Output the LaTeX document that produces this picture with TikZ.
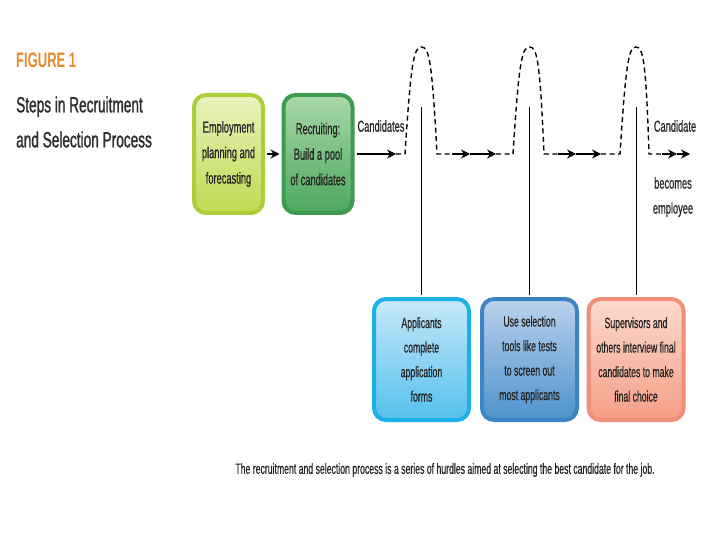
\documentclass[tikz,border=0pt]{standalone}
\usepackage{fontspec}
\setmainfont{Liberation Sans}[FakeStretch=0.58,FakeBold=0.5]
\newfontfamily\titlefont{Liberation Sans}[FakeStretch=0.62,FakeBold=1.2]
\newfontfamily\figfont{Liberation Sans}[FakeStretch=0.62]
\usetikzlibrary{arrows.meta,calc}
\definecolor{orangeT}{RGB}{234,138,48}
\definecolor{titleG}{RGB}{45,45,45}
\definecolor{txt}{RGB}{35,35,35}
\definecolor{g1b}{RGB}{172,206,58}\definecolor{g1t}{RGB}{234,243,190}\definecolor{g1m}{RGB}{190,218,80}
\definecolor{g2b}{RGB}{62,156,80}\definecolor{g2t}{RGB}{170,216,170}\definecolor{g2m}{RGB}{76,168,92}
\definecolor{cAb}{RGB}{28,176,232}\definecolor{cAt}{RGB}{200,232,248}\definecolor{cAm}{RGB}{84,192,238}
\definecolor{cBb}{RGB}{60,132,196}\definecolor{cBt}{RGB}{188,210,236}\definecolor{cBm}{RGB}{76,146,206}
\definecolor{cCb}{RGB}{240,142,118}\definecolor{cCt}{RGB}{252,218,206}\definecolor{cCm}{RGB}{245,158,134}
\tikzset{
  stepbox/.style={draw, line width=4pt, rounded corners=12pt, align=center,
    text=txt, inner sep=0pt},
  topbox/.style={stepbox, font=\fontsize{16}{25.5}\selectfont, minimum width=69pt, minimum height=118pt},
  lowbox/.style={stepbox, font=\fontsize{15}{24.5}\selectfont, minimum width=95pt, minimum height=121pt},
  flow/.style={line width=1.4pt, black},
  tip/.style={flow, -{Stealth[length=9pt,width=9pt]}},
  hurdle/.style={flow, dash pattern=on 5pt off 3.5pt},
  stem/.style={line width=0.8pt, black},
  lbl/.style={text=txt, font=\fontsize{16}{25}\selectfont, inner sep=0pt}
}
\begin{document}
\begin{tikzpicture}[x=1pt,y=-1pt]
\useasboundingbox (0,0) rectangle (720,540);
% titles
\node[anchor=west, text=orangeT, font=\figfont\bfseries\fontsize{21}{22}\selectfont, inner sep=0pt] (fig) at (16,60) {FIGURE 1};
\node[anchor=west, text=titleG, font=\titlefont\fontsize{22}{35}\selectfont, inner sep=0pt, align=left] (ttl) at (16,122) {Steps in Recruitment\\and Selection Process};
% top boxes
\node[topbox, draw=g1b, top color=g1t, bottom color=g1m] (box1) at (228.5,154) {Employment\\planning and\\forecasting};
\node[topbox, draw=g2b, top color=g2t, bottom color=g2m] (box2) at (318,154) {Recruiting:\\Build a pool\\of candidates};
% bottom boxes
\node[lowbox, draw=cAb, top color=cAt, bottom color=cAm] (boxA) at (421.5,359.5) {Applicants\\complete\\application\\forms};
\node[lowbox, draw=cBb, top color=cBt, bottom color=cBm] (boxB) at (529.5,359.5) {Use selection\\tools like tests\\to screen out\\most applicants};
\node[lowbox, draw=cCb, top color=cCt, bottom color=cCm] (boxC) at (636,359.5) {Supervisors and\\others interview final\\candidates to make\\final choice};
% coordinates
\coordinate (a1) at (396,154);
\coordinate (h1l) at (405,154);
\coordinate (h1r) at (437,154);
\coordinate (s1) at (452,154);
\coordinate (s1m) at (470,154);
\coordinate (s1e) at (496,154);
\coordinate (h2l) at (513,154);
\coordinate (h2r) at (544,154);
\coordinate (s2) at (558,154);
\coordinate (s2m) at (576,154);
\coordinate (s2e) at (601,154);
\coordinate (h3l) at (620,154);
\coordinate (h3r) at (649,154);
\coordinate (s3) at (662,154);
\coordinate (s3m) at (677,154);
\coordinate (s3e) at (690,154);
\coordinate (v1) at (421.5,107);
\coordinate (v2) at (529.5,107);
\coordinate (v3) at (636,107);
% connectors
\draw[tip] ($(box1.east)+(2,0)$) -- ($(box2.west)+(-2,0)$);
\draw[tip] ($(box2.east)+(2,0)$) -- (a1);
\draw[hurdle] (a1) -- (h1l) .. controls (411,60) and (414,47) .. (421.5,47) .. controls (429,47) and (432,60) .. (h1r) -- (s1);
\draw[tip] (s1) -- (s1m);
\draw[tip] (s1m) -- (s1e);
\draw[hurdle] (s1e) -- (h2l) .. controls (519,60) and (522,47) .. (529.5,47) .. controls (537,47) and (540,60) .. (h2r) -- (s2);
\draw[tip] (s2) -- (s2m);
\draw[tip] (s2m) -- (s2e);
\draw[hurdle] (s2e) -- (h3l) .. controls (626,60) and (629,47) .. (636,47) .. controls (643,47) and (646,60) .. (h3r) -- (s3);
\draw[tip] (s3) -- (s3m);
\draw[tip] (s3m) -- (s3e);
\draw[stem] (v1) -- ($(boxA.north)+(0,-2)$);
\draw[stem] (v2) -- ($(boxB.north)+(0,-2)$);
\draw[stem] (v3) -- ($(boxC.north)+(0,-2)$);
% labels
\node[lbl] (cands) at (381,126) {Candidates};
\node[lbl] (cand) at (675,126) {Candidate};
\node[lbl, align=center] (becomes) at (673,197) {becomes\\employee};
\node[lbl, font=\fontsize{15}{16}\selectfont] (cap) at (445,470) {The recruitment and selection process is a series of hurdles aimed at selecting the best candidate for the job.};
\end{tikzpicture}
\end{document}
